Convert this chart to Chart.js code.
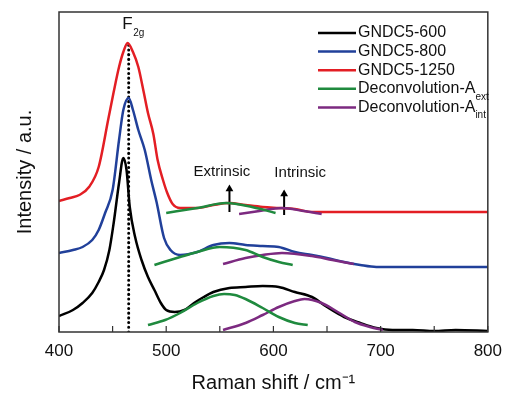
<!DOCTYPE html>
<html>
<head>
<meta charset="utf-8">
<script src="https://cdn.jsdelivr.net/npm/chart.js@4/dist/chart.umd.min.js"></script>
<style>
  html, body { margin: 0; padding: 0; background: #fff; }
  #wrap { width: 511px; height: 393px; position: relative; }
</style>
</head>
<body>
<div id="wrap"><canvas id="ramanChart"></canvas></div>
<script>
// x tick values (labels every 100, inward marks every 50)
const xTickLabels = [400, 500, 600, 700, 800];
const xTickMarks = [400, 450, 500, 550, 600, 650, 700, 750, 800];

// GNDC5-600 (bottom spectrum)
const g600X = [400, 413, 422, 431, 437, 442, 447, 451, 456, 460, 463, 466, 471, 477, 483, 489, 495, 500, 508, 517, 526, 535, 544, 559, 574, 590, 605, 620, 636, 650, 666, 681, 696, 711, 730, 750, 770, 800];
const g600Y = [16, 22, 29, 39, 50, 62, 82, 109, 149, 174, 162, 125, 95, 72, 55, 42, 29, 22, 20, 22, 29, 35, 40, 44, 45, 46, 45, 40, 35, 25, 15, 9, 4, 2, 2, 1, 2, 1];

// GNDC5-800 (middle spectrum)
const g800X = [400, 413, 422, 431, 437, 443, 450, 456, 460, 465, 469, 474, 480, 486, 491, 498, 504, 513, 529, 544, 559, 574, 590, 605, 620, 636, 650, 666, 681, 696, 720, 750, 800];
const g800Y = [79, 82, 85, 92, 102, 119, 142, 192, 222, 234, 222, 202, 182, 152, 130, 94, 82, 77, 80, 87, 89, 87, 86, 85, 80, 77, 74, 70, 67, 65, 65, 65, 65];

// GNDC5-1250 (top spectrum)
const g1250X = [400, 410, 419, 428, 437, 446, 451, 456, 460, 464, 469, 474, 479, 483, 488, 492, 497, 501, 506, 513, 529, 544, 559, 574, 590, 605, 620, 636, 660, 700, 750, 800];
const g1250Y = [131, 134, 137, 145, 165, 213, 240, 265, 280, 289, 280, 265, 240, 219, 198, 172, 152, 139, 128, 124, 124, 127, 129, 127, 125, 124, 123, 120, 120, 120, 120, 120];

// deconvolution bands, extrinsic (green) and intrinsic (purple)
const ext600X = [483, 499, 513, 529, 544, 554, 564, 574, 590, 605, 620, 632];
const ext600Y = [7, 12, 19, 29, 36, 38, 37, 33, 24, 15, 9, 7];
const int600X = [553, 574, 590, 605, 620, 629, 645, 660, 676, 690, 702];
const int600Y = [2, 9, 17, 25, 31, 33, 29, 20, 10, 5, 2];
const ext800X = [489, 513, 529, 550, 574, 590, 605, 618];
const ext800Y = [67, 75, 80, 85, 82, 75, 70, 67];
const int800X = [553, 574, 590, 608, 636, 655, 675];
const int800Y = [68, 74, 77, 79, 76, 72, 68];
const ext1250X = [500, 529, 556, 580, 602];
const ext1250Y = [119, 124, 129, 125, 119];
const int1250X = [568, 587, 608, 628, 645];
const int1250Y = [118, 121, 124, 121, 118];

// F2g marker line and the two arrows
const f2gX = [465, 465];
const f2gY = [0, 287];
const extArrowX = [559, 559];
const extArrowY = [120, 143];
const intArrowX = [610, 610];
const intArrowY = [117, 138];

const legendItems = [
  { text: 'GNDC5-600', sub: '', color: '#000000' },
  { text: 'GNDC5-800', sub: '', color: '#21409a' },
  { text: 'GNDC5-1250', sub: '', color: '#e31e24' },
  { text: 'Deconvolution-A', sub: 'ext', color: '#1f8a3e' },
  { text: 'Deconvolution-A', sub: 'int', color: '#7c2a80' },
];

function pts(xs, ys) {
  return xs.map((x, i) => ({ x: x, y: ys[i] }));
}

function series(xs, ys, color, width) {
  return {
    data: pts(xs, ys),
    borderColor: color,
    backgroundColor: color,
    borderWidth: width || 2.5,
    pointRadius: 0,
    cubicInterpolationMode: 'monotone',
    fill: false,
  };
}

const FONT = '"Liberation Sans", Arial, sans-serif';

const decorPlugin = {
  id: 'decor',
  afterDraw(chart) {
    const ctx = chart.ctx;
    const a = chart.chartArea;
    const xs = chart.scales.x;
    const ys = chart.scales.y;
    ctx.save();

    // frame
    ctx.strokeStyle = '#333';
    ctx.lineWidth = 1.5;
    ctx.strokeRect(a.left, a.top, a.right - a.left, a.bottom - a.top);

    // inward ticks on bottom axis
    ctx.lineWidth = 1.2;
    xTickMarks.forEach(v => {
      const px = xs.getPixelForValue(v);
      ctx.beginPath();
      ctx.moveTo(px, a.bottom);
      ctx.lineTo(px, a.bottom - 6);
      ctx.stroke();
    });

    // text labels
    ctx.fillStyle = '#111';
    ctx.textBaseline = 'middle';
    ctx.textAlign = 'center';
    ctx.font = '15px ' + FONT;
    ctx.fillText('Extrinsic', xs.getPixelForValue(552), ys.getPixelForValue(160));
    ctx.fillText('Intrinsic', xs.getPixelForValue(625), ys.getPixelForValue(159));

    ctx.font = '17px ' + FONT;
    ctx.textAlign = 'left';
    const fx = xs.getPixelForValue(459);
    const fy = ys.getPixelForValue(308);
    ctx.fillText('F', fx, fy);
    ctx.font = '10px ' + FONT;
    ctx.fillText('2g', fx + 11, fy + 9);

    // legend
    let y = 33;
    legendItems.forEach(item => {
      ctx.strokeStyle = item.color;
      ctx.lineWidth = 2.5;
      ctx.beginPath();
      ctx.moveTo(318, y);
      ctx.lineTo(356, y);
      ctx.stroke();
      ctx.fillStyle = '#111';
      ctx.font = '16px ' + FONT;
      ctx.textAlign = 'left';
      ctx.fillText(item.text, 358, y);
      if (item.sub) {
        const w = ctx.measureText(item.text).width;
        ctx.font = '10px ' + FONT;
        ctx.fillText(item.sub, 358 + w, y + 8);
      }
      y += 18.6;
    });

    ctx.restore();
  }
};

const arrowSet = (xs, ys) => ({
  data: pts(xs, ys),
  borderColor: '#000',
  backgroundColor: '#000',
  borderWidth: 2,
  pointStyle: 'triangle',
  pointRadius: [0, 4.5],
  pointBorderWidth: 0,
  fill: false,
});

const ctx = document.getElementById('ramanChart').getContext('2d');
const ramanChart = new Chart(ctx, {
  type: 'line',
  data: {
    datasets: [
      series(ext600X, ext600Y, '#1f8a3e'),
      series(int600X, int600Y, '#7c2a80'),
      series(ext800X, ext800Y, '#1f8a3e'),
      series(int800X, int800Y, '#7c2a80'),
      series(ext1250X, ext1250Y, '#1f8a3e'),
      series(int1250X, int1250Y, '#7c2a80'),
      series(g600X, g600Y, '#000000'),
      series(g800X, g800Y, '#21409a'),
      series(g1250X, g1250Y, '#e31e24'),
      {
        data: pts(f2gX, f2gY),
        borderColor: '#000',
        borderWidth: 3,
        borderDash: [0.1, 4.6],
        borderCapStyle: 'round',
        pointRadius: 0,
        fill: false,
      },
      arrowSet(extArrowX, extArrowY),
      arrowSet(intArrowX, intArrowY),
    ],
  },
  options: {
    responsive: true,
    maintainAspectRatio: false,
    animation: false,
    layout: { padding: { top: 12, right: 14, left: 0, bottom: 0 } },
    plugins: {
      legend: { display: false },
      tooltip: { enabled: false },
    },
    scales: {
      x: {
        type: 'linear',
        min: 400,
        max: 800,
        afterFit: s => { s.height = 61; },
        afterBuildTicks: s => { s.ticks = xTickLabels.map(v => ({ value: v })); },
        grid: { display: false, drawTicks: false },
        border: { display: false },
        ticks: {
          padding: 9,
          color: '#111',
          font: { family: FONT, size: 17 },
        },
        title: {
          display: true,
          text: 'Raman shift / cm\u207B\u00B9',
          color: '#111',
          font: { family: FONT, size: 20, lineHeight: 1.0 },
          padding: { top: 0, bottom: 0 },
        },
      },
      y: {
        min: 0,
        max: 320,
        afterFit: s => { s.width = 59; },
        grid: { display: false, drawTicks: false },
        border: { display: false },
        ticks: { display: false },
        title: {
          display: true,
          text: 'Intensity / a.u.',
          color: '#111',
          font: { family: FONT, size: 20, lineHeight: 1.2 },
          padding: { top: 13, bottom: 0 },
        },
      },
    },
  },
  plugins: [decorPlugin],
});
</script>
</body>
</html>
